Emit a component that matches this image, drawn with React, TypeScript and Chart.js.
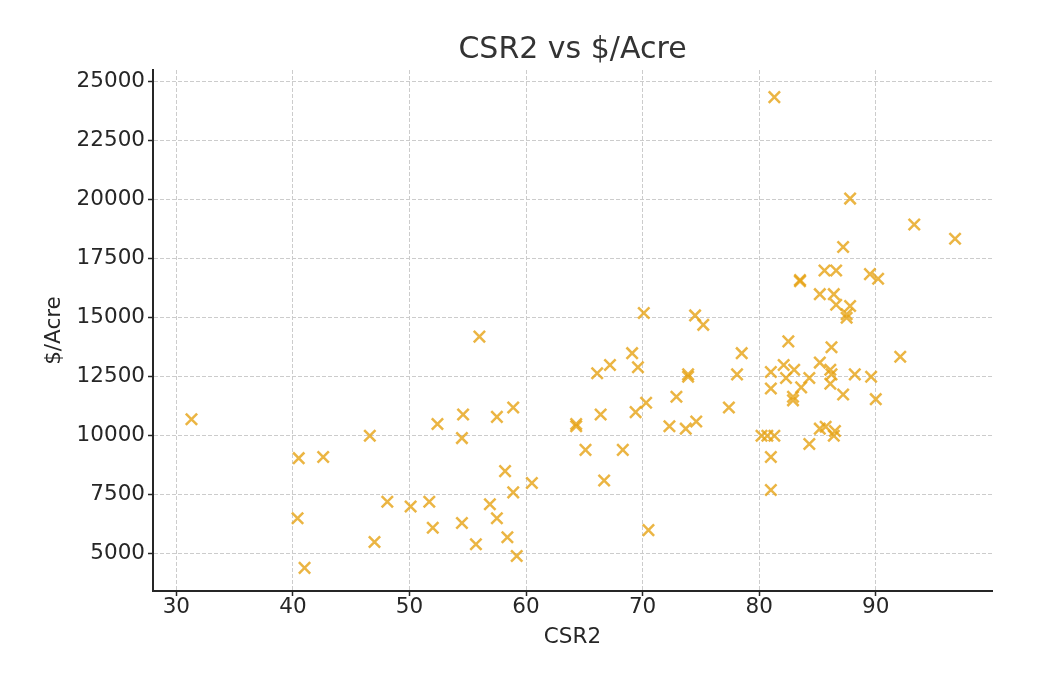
import React, { useEffect, useRef } from "react";
import { Chart, registerables } from "chart.js";

Chart.register(...registerables);

// CSR2 rating of each parcel
const csr2: number[] = [
  31.3, 40.5, 42.6, 40.4, 41.0, 46.6, 47.0, 48.1, 50.1, 51.7, 52.0, 52.4, 54.6, 54.5, 54.5,
  56.0, 55.7, 56.9, 57.5, 57.5, 58.9, 58.2, 58.9, 58.4, 59.2, 60.5,
  64.3, 64.3, 65.1, 66.1, 66.4, 66.7, 67.2, 68.3, 69.1, 69.6, 69.4, 70.1, 70.3, 70.5,
  72.3, 72.9, 73.7, 73.9, 73.9, 74.5, 74.6, 75.2,
  77.4, 78.1, 78.5, 80.2, 80.7, 81.3, 81.0, 81.0, 81.0, 81.0, 81.3, 82.1, 82.3, 82.5,
  83.0, 82.9, 82.9, 83.5, 83.5, 83.6,
  84.3, 84.3, 85.2, 85.2, 85.2, 85.7, 85.6, 86.2, 86.1, 86.2, 86.1, 86.5, 86.4, 86.6,
  86.4, 86.6, 87.2, 87.2, 87.5, 87.5, 87.8, 87.8, 88.2, 89.5, 89.6, 90.0, 90.2, 92.1,
  93.3, 96.8,
];

// Sale price in dollars per acre, same order as csr2
const pricePerAcre: number[] = [
  10700, 9050, 9100, 6500, 4400, 10000, 5500, 7200, 7000, 7200, 6100, 10500, 10900, 9900, 6300,
  14200, 5400, 7100, 10800, 6500, 11200, 8500, 7600, 5700, 4900, 8000,
  10500, 10400, 9400, 12650, 10900, 8100, 13000, 9400, 13500, 12900, 11000, 15200, 11400, 6000,
  10400, 11650, 10300, 12600, 12500, 15100, 10600, 14700,
  11200, 12600, 13500, 10000, 10000, 10000, 9100, 7700, 12000, 12700, 24350, 13000, 12450, 14000,
  12800, 11650, 11500, 16600, 16550, 12050,
  12450, 9650, 16000, 13100, 10300, 10380, 17000, 13750, 12800, 12600, 12200, 10200, 10000, 17000,
  16000, 15550, 18000, 11750, 15150, 15000, 15500, 20050, 12600, 16850, 12500, 11550, 16650, 13350,
  18950, 18350,
];

const xTicks: number[] = [30, 40, 50, 60, 70, 80, 90];
const yTicks: number[] = [5000, 7500, 10000, 12500, 15000, 17500, 20000, 22500, 25000];

const FONT = "'DejaVu Sans', 'Noto Sans', sans-serif";
const TEXT = "#262626";
const GRID = "#cccccc";

export default function App() {
  const canvasRef = useRef<HTMLCanvasElement | null>(null);

  useEffect(() => {
    const canvas = canvasRef.current;
    if (!canvas) return;
    const points = csr2.map((x, i) => ({ x, y: pricePerAcre[i] }));

    const chart = new Chart(canvas, {
      type: "scatter",
      data: {
        datasets: [
          {
            data: points,
            pointStyle: "crossRot",
            pointRadius: 8,
            pointHoverRadius: 8,
            borderWidth: 2.5,
            borderColor: "rgba(230,162,20,0.8)",
            backgroundColor: "rgba(230,162,20,0.8)",
          },
        ],
      },
      options: {
        responsive: false,
        animation: false,
        layout: { padding: { left: 0, right: 58, top: 0, bottom: 0 } },
        plugins: {
          legend: { display: false },
          tooltip: { enabled: false },
          title: {
            display: true,
            text: "CSR2 vs $/Acre",
            fullSize: false,
            color: "#333333",
            font: { family: FONT, size: 30, weight: "normal" },
            padding: { top: 24, bottom: 2 },
          },
        },
        scales: {
          x: {
            type: "linear",
            min: 28.0,
            max: 99.97,
            afterBuildTicks: (s: any) => {
              s.ticks = xTicks.map((v) => ({ value: v }));
            },
            afterFit: (s: any) => {
              s.height = 79;
            },
            ticks: {
              color: TEXT,
              font: { family: FONT, size: 21.5 },
              padding: -1,
              maxRotation: 0,
              autoSkip: false,
            },
            grid: {
              color: GRID,
              lineWidth: 1,
              tickLength: 5,
              tickColor: TEXT,
              tickWidth: 1.5,
            },
            border: { display: true, color: TEXT, width: 2, dash: [4, 2] },
            title: {
              display: true,
              text: "CSR2",
              color: TEXT,
              font: { family: FONT, size: 21.5 },
              padding: { top: 0, bottom: 20 },
            },
          },
          y: {
            type: "linear",
            min: 3420,
            max: 25500,
            afterBuildTicks: (s: any) => {
              s.ticks = yTicks.map((v) => ({ value: v }));
            },
            afterFit: (s: any) => {
              s.width = 145;
            },
            ticks: {
              color: TEXT,
              font: { family: FONT, size: 21.5 },
              padding: 3,
              autoSkip: false,
              callback: (v: any) => String(v),
            },
            grid: {
              color: GRID,
              lineWidth: 1,
              tickLength: 5,
              tickColor: TEXT,
              tickWidth: 1.5,
            },
            border: { display: true, color: TEXT, width: 2, dash: [4, 2] },
            title: {
              display: true,
              text: "$/Acre",
              color: TEXT,
              font: { family: FONT, size: 21.5 },
              padding: { top: 34, bottom: 0 },
            },
          },
        },
      },
    });

    return () => chart.destroy();
  }, []);

  return (
    <canvas
      ref={canvasRef}
      width={1042}
      height={662}
      style={{ display: "block", width: "1042px", height: "662px" }}
    />
  );
}
